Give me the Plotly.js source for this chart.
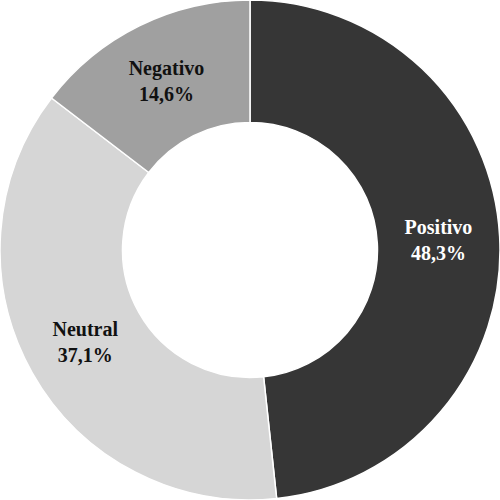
<!DOCTYPE html>
<html>
<head>
<meta charset="utf-8">
<script src="https://cdn.plot.ly/plotly-3.0.1.min.js"></script>
<style>
  html, body { margin: 0; padding: 0; background: #fff; }
  #chart { width: 500px; height: 500px; }
</style>
</head>
<body>
<div id="chart"></div>
<script>
// sentiment shares (percent)
const labels = ["Positivo", "Neutral", "Negativo"];
const values = [48.3, 37.1, 14.6];
const colors = ["#363636", "#d6d6d6", "#a0a0a0"];
const textColors = ["#ffffff", "#111111", "#111111"];

const trace = {
    type: "pie",
    labels: labels,
    values: values,
    hole: 0.51,
    sort: false,
    direction: "clockwise",
    rotation: 0,
    marker: { colors: colors, line: { color: "#ffffff", width: 1.5 } },
    texttemplate: "<b>%{label}</b><br><b>%{percent:.1%}</b>",
    textposition: "inside",
    insidetextorientation: "horizontal",
    textfont: { family: "'Liberation Serif', 'Times New Roman', serif", size: 20, color: textColors },
    hoverinfo: "none"
};

Plotly.newPlot("chart", [trace], {
    width: 500,
    height: 500,
    margin: { l: 0, r: 0, t: 0, b: 0 },
    showlegend: false,
    separators: ",.",
    uniformtext: { mode: "show", minsize: 20 },
    paper_bgcolor: "#ffffff"
}, { displayModeBar: false, staticPlot: true });
</script>
</body>
</html>
